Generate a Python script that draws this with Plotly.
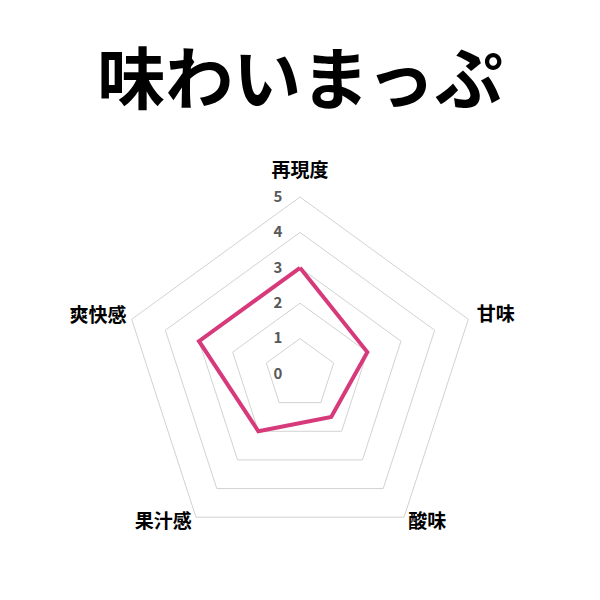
import plotly.graph_objects as go

categories = ["再現度", "甘味", "酸味", "果汁感", "爽快感"]
values = [3, 2, 1.5, 2, 3]
tick_vals = [0, 1, 2, 3, 4, 5]
tick_text = ["0", "1", "2", "3", "4", "5"]

font_jp = "Noto Sans CJK JP"

# the page body has an 8px margin, so positions are shifted back by 8px
off = 8
r_max = 5.5  # a little room outside the outer ring for the category names
cx, cy = 300 - off, 374 - off
rad = 177 * r_max / 5

# where the category names sit (radius just outside the outer ring)
label_r = [5.42, 5.25, 5.2, 5.2, 5.15]
label_pos = ["top center", "middle right", "middle right", "middle left", "middle left"]

fig = go.Figure()
fig.add_trace(go.Scatterpolar(
    r=values + values[:1],
    theta=categories + categories[:1],
    mode="lines",
    line=dict(color="#d63a7b", width=4),
    showlegend=False,
    hoverinfo="skip",
))
fig.add_trace(go.Scatterpolar(
    r=label_r,
    theta=categories,
    mode="text",
    text=categories,
    textposition=label_pos,
    textfont=dict(family=font_jp, size=19, color="black", weight="bold"),
    cliponaxis=False,
    showlegend=False,
    hoverinfo="skip",
))

fig.update_layout(
    width=600, height=600,
    margin=dict(l=0, r=0, t=0, b=0),
    paper_bgcolor="white",
    plot_bgcolor="white",
    title=dict(
        text="<b>味わいまっぷ</b>",
        x=cx / 600, xanchor="center",
        y=1 - (80 - off) / 600, yanchor="middle",
        font=dict(family=font_jp, size=68, color="black"),
    ),
    polar=dict(
        domain=dict(x=[(cx - rad) / 600, (cx + rad) / 600],
                    y=[(600 - cy - rad) / 600, (600 - cy + rad) / 600]),
        bgcolor="white",
        gridshape="linear",
        radialaxis=dict(
            range=[0, r_max],
            tickvals=tick_vals,
            ticktext=tick_text,
            angle=90,
            tickangle=90,
            side="counterclockwise",
            showline=False,
            ticks="outside",
            ticklen=12,
            tickcolor="rgba(0,0,0,0)",
            gridcolor="#d2d2d2",
            gridwidth=1.2,
            tickfont=dict(family=font_jp, size=15, color="#595959", weight="bold"),
        ),
        angularaxis=dict(
            direction="clockwise",
            rotation=90,
            showgrid=False,
            showline=False,
            ticks="",
            showticklabels=False,
        ),
    ),
)

fig.write_html("out.html")
